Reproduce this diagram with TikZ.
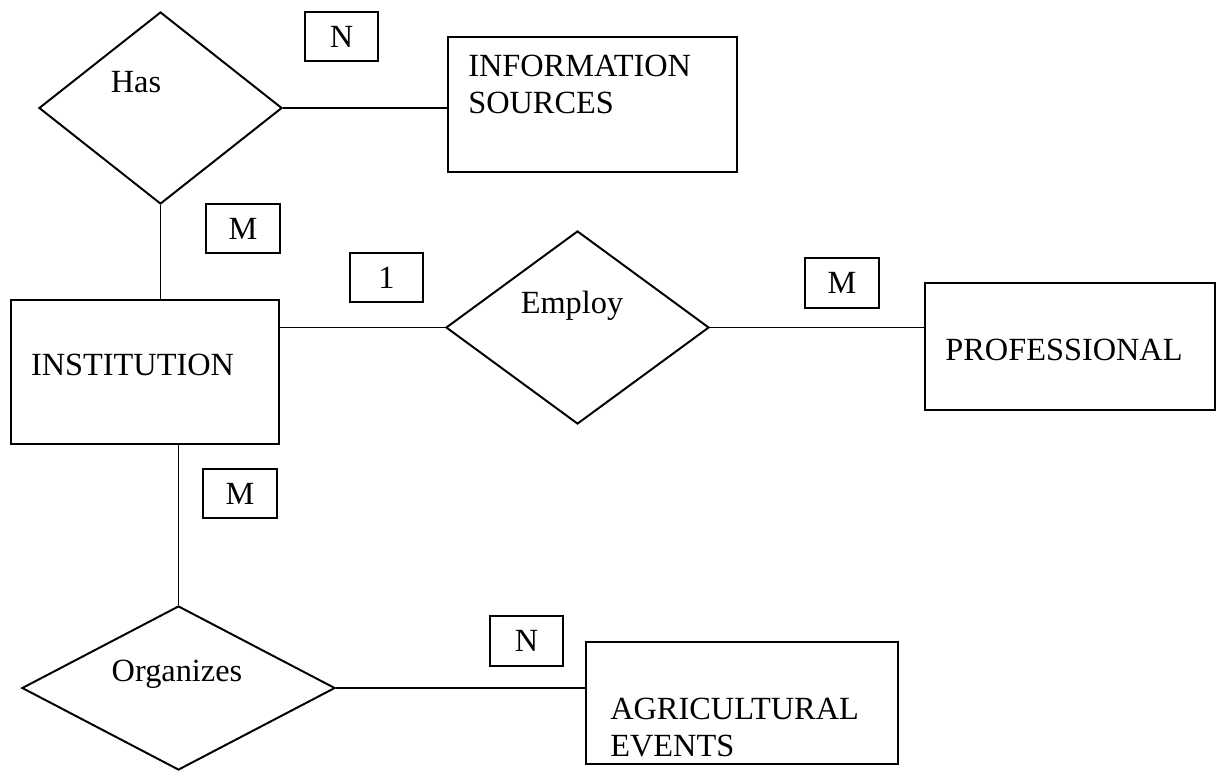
\documentclass[tikz,border=0pt]{standalone}
\usepackage{fontspec}
\setmainfont{Liberation Serif}
\usetikzlibrary{shapes.geometric}

\begin{document}
\begin{tikzpicture}[
  x=0.025cm, y=-0.025cm,
  entity/.style={rectangle,draw,line width=1.4pt,inner sep=0pt},
  relation/.style={diamond,draw,line width=1.4pt,inner sep=0pt},
  card/.style={rectangle,draw,line width=1.3pt,minimum width=1.83cm,
    minimum height=1.23cm,inner sep=0pt,font=\fontsize{23pt}{26pt}\selectfont},
  txt/.style={inner sep=0pt,font=\fontsize{23pt}{26pt}\selectfont},
  link/.style={line width=1.3pt}
]
  \useasboundingbox (0,0) rectangle (1221,772);

  % relationships
  \node[relation,minimum width=6.075cm,minimum height=4.8cm] (has) at (160.5,108) {};
  \node[relation,minimum width=6.575cm,minimum height=4.825cm] (employ) at (577.5,327.5) {};
  \node[relation,minimum width=7.825cm,minimum height=4.1cm] (organizes) at (178.5,688) {};
  \node[txt,anchor=base] (hastext) at (136,92) {Has};
  \node[txt,anchor=base] (employtext) at (572,313) {Employ};
  \node[txt,anchor=base] (organizestext) at (177,681) {Organizes};

  % entities
  \node[entity,minimum width=7.225cm,minimum height=3.375cm] (info) at (592.5,104.5) {};
  \node[entity,minimum width=6.7cm,minimum height=3.6cm] (inst) at (145,372) {};
  \node[entity,minimum width=7.25cm,minimum height=3.175cm] (prof) at (1070,346.5) {};
  \node[entity,minimum width=7.8cm,minimum height=3.05cm] (agri) at (742,703) {};
  \node[txt,anchor=north west,align=left] (infotext) at (468,55) {INFORMATION\\SOURCES};
  \node[txt,anchor=base] (insttext) at (132.5,375) {INSTITUTION};
  \node[txt,anchor=base] (proftext) at (1064,360) {PROFESSIONAL};
  \node[txt,anchor=north west,align=left] (agritext) at (610,698) {AGRICULTURAL\\EVENTS};

  % cardinalities
  \node[card] (n1) at (341.5,36.5) {N};
  \node[card] (m1) at (243,228.5) {M};
  \node[card] (one) at (386.5,277.5) {1};
  \node[card] (m2) at (842,283) {M};
  \node[card] (m3) at (240,493.5) {M};
  \node[card] (n2) at (526.5,641) {N};

  \draw[link] (has.east) -- (has.east -| info.west);
  \draw[link] (has.south) -- (has.south |- inst.north);
  \draw[link] (employ.west -| inst.east) -- (employ.west);
  \draw[link] (employ.east) -- (employ.east -| prof.west);
  \draw[link] (organizes.north |- inst.south) -- (organizes.north);
  \draw[link] (organizes.east) -- (organizes.east -| agri.west);
\end{tikzpicture}
\end{document}
